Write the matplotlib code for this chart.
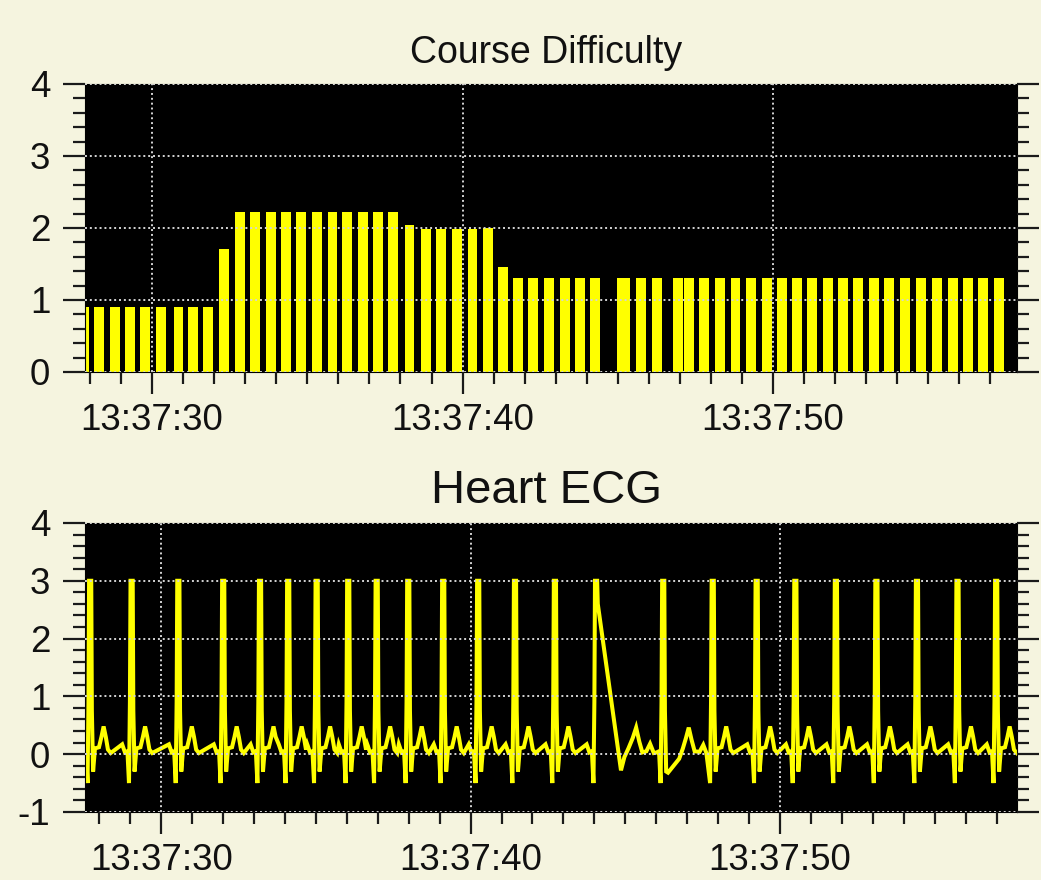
import numpy as np
import pandas as pd
import matplotlib
matplotlib.use("Agg")
import matplotlib.pyplot as plt
import matplotlib.dates as mdates
from matplotlib.ticker import MultipleLocator

plt.rcParams['font.family'] = ['Liberation Sans', 'DejaVu Sans']
plt.rcParams['axes.unicode_minus'] = False

BG = '#f5f4df'
YELLOW = '#ffff00'
GRID = '#d4d4d4'
BASE = pd.Timestamp("2024-01-01 13:37:00")

# --- Course Difficulty (seconds after 13:37:00, value) ---
bar_sec = [27.81, 28.30, 28.79, 29.29, 29.77, 30.29, 30.85, 31.33, 31.81,
           32.32, 32.83, 33.32, 33.82, 34.31, 34.80, 35.30, 35.81, 36.29,
           36.79, 37.29, 37.77, 38.29, 38.81, 39.31, 39.81, 40.32, 40.81,
           41.29, 41.80, 42.28, 42.79, 43.30, 43.79, 44.28, 45.12, 45.24,
           45.76, 46.27, 46.94, 47.30, 47.79, 48.28, 48.79, 49.29, 49.80,
           50.29, 50.78, 51.27, 51.76, 52.25, 52.74, 53.26, 53.75, 54.26,
           54.78, 55.28, 55.79, 56.28, 56.77, 57.28]
bar_val = [0.90, 0.90, 0.90, 0.90, 0.90, 0.90, 0.90, 0.90, 0.90,
           1.71, 2.22, 2.22, 2.22, 2.22, 2.22, 2.22, 2.22, 2.22,
           2.22, 2.22, 2.22, 2.04, 1.98, 1.98, 1.98, 1.98, 2.00,
           1.46, 1.30, 1.30, 1.30, 1.30, 1.30, 1.30, 1.30, 1.30,
           1.30, 1.30, 1.30, 1.30, 1.30, 1.30, 1.30, 1.30, 1.30,
           1.30, 1.30, 1.30, 1.30, 1.30, 1.30, 1.30, 1.30, 1.30,
           1.30, 1.30, 1.30, 1.30, 1.30, 1.30]

# --- Heart ECG ---
# R-peak times
beat_sec = [27.71, 29.05, 30.56, 32.01, 33.20, 34.11, 35.03, 36.05, 36.97,
            37.99, 39.12, 40.25, 41.44, 42.73, 44.06, 46.23, 47.83, 49.25,
            50.50, 51.81, 53.12, 54.43, 55.74, 56.99]
# one heartbeat (offset from R peak, value)
beat_dt = [-0.31, -0.22, -0.14, -0.09, -0.06, -0.04, 0.03, 0.05, 0.09,
           0.15, 0.28, 0.36, 0.43, 0.50, 0.57, 0.66]
beat_val = [0.17, 0.03, 0.05, -0.50, 0.90, 3.00, 3.00, 0.75, -0.30,
            0.10, 0.12, 0.30, 0.48, 0.30, 0.08, 0.02]
# stretches where samples are missing and the trace jumps across
gap_windows = [(44.095, 45.98), (46.33, 47.70)]
gap_sec = [44.11, 44.86, 44.97, 45.10, 45.24, 45.35, 45.45, 45.55, 45.68,
           45.80, 45.92,
           46.38, 46.74, 46.86, 46.96, 47.05, 47.14, 47.24, 47.40, 47.52,
           47.62]
gap_val = [2.60, -0.28, -0.05, 0.10, 0.28, 0.46, 0.22, 0.03, 0.05,
           0.18, 0.02,
           -0.32, -0.08, 0.10, 0.28, 0.46, 0.25, 0.05, 0.04, 0.16,
           0.02]


def ecg_series():
    ts, vs = [], []
    for i, r in enumerate(beat_sec):
        nxt = beat_sec[i + 1] if i + 1 < len(beat_sec) else np.inf
        for dt, v in zip(beat_dt, beat_val):
            t = r + dt
            if dt > 0 and t > nxt + beat_dt[0] - 0.03:
                continue
            if any(a < t < b for a, b in gap_windows):
                continue
            ts.append(t)
            vs.append(v)
    ts += gap_sec
    vs += gap_val
    order = np.argsort(ts)
    return np.array(ts)[order], np.array(vs)[order]


def to_time(sec):
    return BASE + pd.to_timedelta(np.asarray(sec), unit="s")


def style_axis(ax, ylo, yhi, xlo, xhi):
    ax.set_facecolor('black')
    for s in ax.spines.values():
        s.set_color('black')
    ax.set_ylim(ylo, yhi)
    ax.set_xlim(to_time([xlo])[0], to_time([xhi])[0])
    ax.yaxis.set_major_locator(MultipleLocator(1))
    ax.yaxis.set_minor_locator(MultipleLocator(0.2))
    ax.xaxis.set_major_locator(mdates.SecondLocator(bysecond=range(0, 60, 10)))
    ax.xaxis.set_minor_locator(mdates.SecondLocator())
    ax.xaxis.set_major_formatter(mdates.DateFormatter('%H:%M:%S'))
    ax.tick_params(which='both', direction='out', color='#1a1a1a', width=1.6,
                   left=True, right=True, labelright=False, top=False)
    ax.tick_params(which='major', length=16, labelsize=26.5, pad=6,
                   labelcolor='#111111')
    ax.tick_params(which='minor', length=8.5)
    ax.tick_params(axis='y', which='major', pad=9)
    ax.grid(True, which='major', color=GRID, linestyle=(0, (1, 1.5)), linewidth=1.4)
    ax.set_axisbelow(False)


fig = plt.figure(figsize=(10.41, 8.8), dpi=100)
fig.patch.set_facecolor(BG)

ax1 = fig.add_axes([0.0817, 0.5773, 0.8953, 0.3273])
ax2 = fig.add_axes([0.0817, 0.0773, 0.8953, 0.3284])

ax1.bar(to_time(bar_sec), bar_val, width=0.32 / 86400, color=YELLOW,
        edgecolor='none', zorder=2)
style_axis(ax1, 0, 4, 27.84, 57.86)

t_ecg, v_ecg = ecg_series()
ax2.plot(to_time(t_ecg), v_ecg, color=YELLOW, linewidth=2.9, zorder=2,
         solid_joinstyle='miter')
style_axis(ax2, -1, 4, 27.54, 57.66)

fig.text(0.525, 0.9284, "Course Difficulty", ha='center', va='baseline',
         fontsize=27, color='#111111')
fig.text(0.525, 0.4284, "Heart ECG", ha='center', va='baseline',
         fontsize=34, color='#111111')

fig.savefig("out.png", dpi=100, facecolor=BG)
